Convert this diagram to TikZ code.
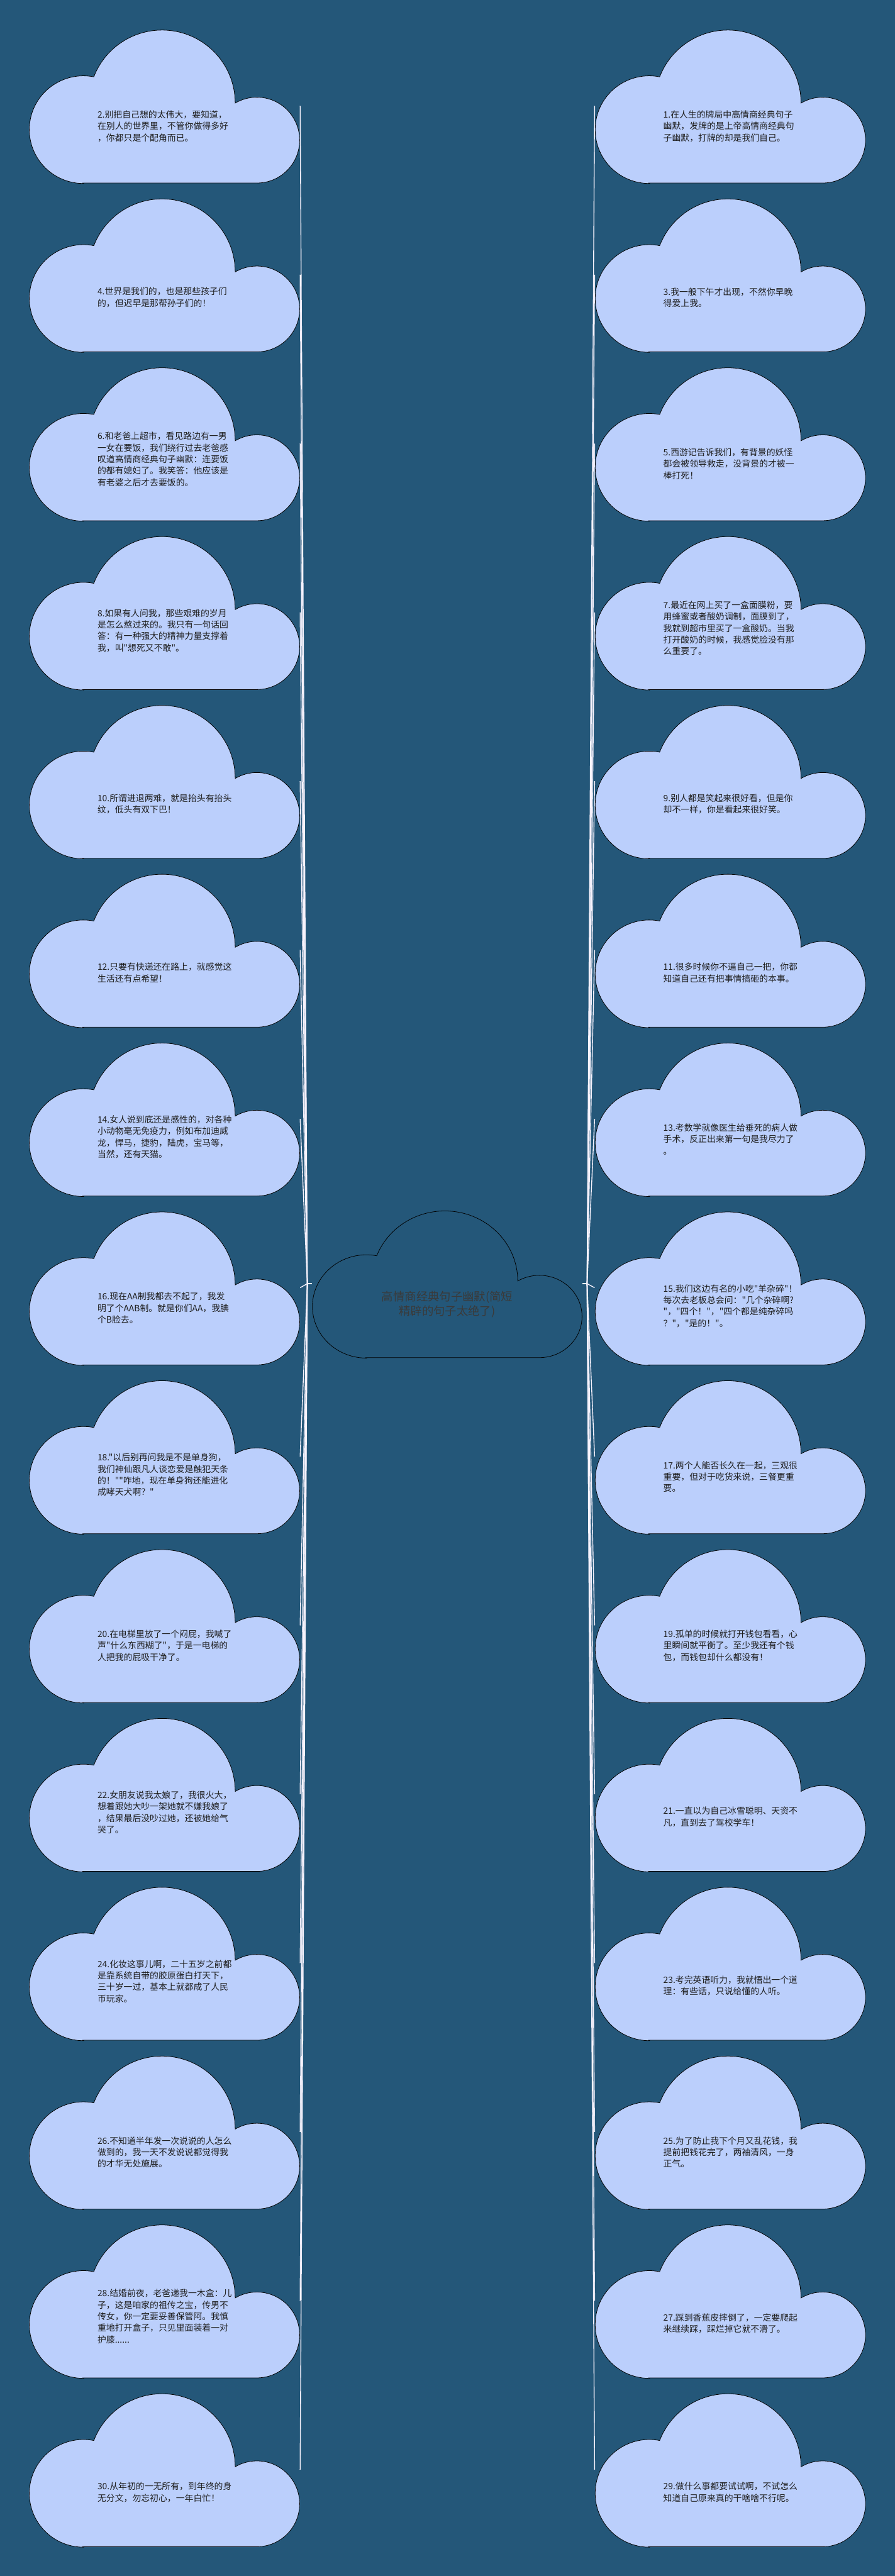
\documentclass[tikz,border=0pt]{standalone}
\usepackage{fontspec}
\usepackage{xcolor}
\usepackage{tikz}
\usetikzlibrary{positioning,calc}
\newfontfamily\cjk{Noto Sans CJK SC}
\definecolor{bgblue}{HTML}{245779}
\definecolor{cloudblue}{HTML}{BBCFFC}
\definecolor{linkwhite}{HTML}{F6F2FC}
\definecolor{quoteink}{HTML}{1E1E1E}
\definecolor{titleink}{HTML}{3A3A3A}

\begin{document}
\begin{tikzpicture}[cloud/.pic={\filldraw[draw=black, line width=0.4pt] (0.2,0) -- (0.842,0) arc[start angle=-90, end angle=120.4, x radius=0.158, y radius=0.279] arc[start angle=0, end angle=158.9, x radius=0.27, y radius=0.475] arc[start angle=79, end angle=270, x radius=0.2, y radius=0.35] -- cycle;},
 side/.style={rectangle, inner sep=0pt, minimum width=7.75cm, minimum height=4.4cm},
 rootcloud/.style={rectangle, inner sep=0pt, minimum width=7.73cm, minimum height=4.22cm},
 sideshape/.style={x=7.75cm, y=4.4cm, fill=cloudblue},
 rootshape/.style={x=7.73cm, y=4.22cm, fill=bgblue},
 quote/.style={anchor=west, inner sep=0pt, align=left, text=quoteink, font=\cjk\fontsize{7.1pt}{9.4pt}\selectfont},
 title/.style={inner sep=0pt, align=center, text=titleink, font=\cjk\fontsize{9.4pt}{11.7pt}\selectfont},
 every edge/.append style={linkwhite, line width=0.7pt}]

\fill[bgblue] (0,0) rectangle (25.6,-73.71);

% left column
\node[side] (n2) at (4.705,-3.03) {};
\node[side] (n4) at (4.705,-7.861) {};
\node[side] (n6) at (4.705,-12.692) {};
\node[side] (n8) at (4.705,-17.523) {};
\node[side] (n10) at (4.705,-22.354) {};
\node[side] (n12) at (4.705,-27.185) {};
\node[side] (n14) at (4.705,-32.016) {};
\node[side] (n16) at (4.705,-36.847) {};
\node[side] (n18) at (4.705,-41.678) {};
\node[side] (n20) at (4.705,-46.509) {};
\node[side] (n22) at (4.705,-51.34) {};
\node[side] (n24) at (4.705,-56.171) {};
\node[side] (n26) at (4.705,-61.002) {};
\node[side] (n28) at (4.705,-65.833) {};
\node[side] (n30) at (4.705,-70.664) {};

% right column
\node[side] (n1) at (20.895,-3.03) {};
\node[side] (n3) at (20.895,-7.861) {};
\node[side] (n5) at (20.895,-12.692) {};
\node[side] (n7) at (20.895,-17.523) {};
\node[side] (n9) at (20.895,-22.354) {};
\node[side] (n11) at (20.895,-27.185) {};
\node[side] (n13) at (20.895,-32.016) {};
\node[side] (n15) at (20.895,-36.847) {};
\node[side] (n17) at (20.895,-41.678) {};
\node[side] (n19) at (20.895,-46.509) {};
\node[side] (n21) at (20.895,-51.34) {};
\node[side] (n23) at (20.895,-56.171) {};
\node[side] (n25) at (20.895,-61.002) {};
\node[side] (n27) at (20.895,-65.833) {};
\node[side] (n29) at (20.895,-70.664) {};

\node[rootcloud] (root) at (12.795,-36.73) {};

% cloud outlines
\pic[sideshape] at (n2.south west) {cloud};
\pic[sideshape] at (n4.south west) {cloud};
\pic[sideshape] at (n6.south west) {cloud};
\pic[sideshape] at (n8.south west) {cloud};
\pic[sideshape] at (n10.south west) {cloud};
\pic[sideshape] at (n12.south west) {cloud};
\pic[sideshape] at (n14.south west) {cloud};
\pic[sideshape] at (n16.south west) {cloud};
\pic[sideshape] at (n18.south west) {cloud};
\pic[sideshape] at (n20.south west) {cloud};
\pic[sideshape] at (n22.south west) {cloud};
\pic[sideshape] at (n24.south west) {cloud};
\pic[sideshape] at (n26.south west) {cloud};
\pic[sideshape] at (n28.south west) {cloud};
\pic[sideshape] at (n30.south west) {cloud};
\pic[sideshape] at (n1.south west) {cloud};
\pic[sideshape] at (n3.south west) {cloud};
\pic[sideshape] at (n5.south west) {cloud};
\pic[sideshape] at (n7.south west) {cloud};
\pic[sideshape] at (n9.south west) {cloud};
\pic[sideshape] at (n11.south west) {cloud};
\pic[sideshape] at (n13.south west) {cloud};
\pic[sideshape] at (n15.south west) {cloud};
\pic[sideshape] at (n17.south west) {cloud};
\pic[sideshape] at (n19.south west) {cloud};
\pic[sideshape] at (n21.south west) {cloud};
\pic[sideshape] at (n23.south west) {cloud};
\pic[sideshape] at (n25.south west) {cloud};
\pic[sideshape] at (n27.south west) {cloud};
\pic[sideshape] at (n29.south west) {cloud};
\pic[rootshape] at (root.south west) {cloud};

\node[title] (head) at ([yshift=-0.59cm]root.center) {高情商经典句子幽默(简短\\精辟的句子太绝了)};

\node[quote] (t2) at ([xshift=1.96cm,yshift=-0.58cm]n2.west) {2.别把自己想的太伟大，要知道，\\在别人的世界里，不管你做得多好\\，你都只是个配角而已。};
\node[quote] (t4) at ([xshift=1.96cm,yshift=-0.65cm]n4.west) {4.世界是我们的，也是那些孩子们\\的，但迟早是那帮孙子们的！};
\node[quote] (t6) at ([xshift=1.96cm,yshift=-0.45cm]n6.west) {6.和老爸上超市，看见路边有一男\\一女在要饭，我们绕行过去老爸感\\叹道高情商经典句子幽默：连要饭\\的都有媳妇了。我笑答：他应该是\\有老婆之后才去要饭的。};
\node[quote] (t8) at ([xshift=1.96cm,yshift=-0.52cm]n8.west) {8.如果有人问我，那些艰难的岁月\\是怎么熬过来的。我只有一句话回\\答：有一种强大的精神力量支撑着\\我，叫"想死又不敢"。};
\node[quote] (t10) at ([xshift=1.96cm,yshift=-0.65cm]n10.west) {10.所谓进退两难，就是抬头有抬头\\纹，低头有双下巴！};
\node[quote] (t12) at ([xshift=1.96cm,yshift=-0.65cm]n12.west) {12.只要有快递还在路上，就感觉这\\生活还有点希望！};
\node[quote] (t14) at ([xshift=1.96cm,yshift=-0.52cm]n14.west) {14.女人说到底还是感性的，对各种\\小动物毫无免疫力，例如布加迪威\\龙，悍马，捷豹，陆虎，宝马等，\\当然，还有天猫。};
\node[quote] (t16) at ([xshift=1.96cm,yshift=-0.58cm]n16.west) {16.现在AA制我都去不起了，我发\\明了个AAB制。就是你们AA，我腆\\个B脸去。};
\node[quote] (t18) at ([xshift=1.96cm,yshift=-0.52cm]n18.west) {18."以后别再问我是不是单身狗，\\我们神仙跟凡人谈恋爱是触犯天条\\的！""咋地，现在单身狗还能进化\\成哮天犬啊？"};
\node[quote] (t20) at ([xshift=1.96cm,yshift=-0.58cm]n20.west) {20.在电梯里放了一个闷屁，我喊了\\声"什么东西糊了"，于是一电梯的\\人把我的屁吸干净了。};
\node[quote] (t22) at ([xshift=1.96cm,yshift=-0.52cm]n22.west) {22.女朋友说我太娘了，我很火大，\\想着跟她大吵一架她就不嫌我娘了\\，结果最后没吵过她，还被她给气\\哭了。};
\node[quote] (t24) at ([xshift=1.96cm,yshift=-0.52cm]n24.west) {24.化妆这事儿啊，二十五岁之前都\\是靠系统自带的胶原蛋白打天下，\\三十岁一过，基本上就都成了人民\\币玩家。};
\node[quote] (t26) at ([xshift=1.96cm,yshift=-0.58cm]n26.west) {26.不知道半年发一次说说的人怎么\\做到的，我一天不发说说都觉得我\\的才华无处施展。};
\node[quote] (t28) at ([xshift=1.96cm,yshift=-0.45cm]n28.west) {28.结婚前夜，老爸递我一木盒：儿\\子，这是咱家的祖传之宝，传男不\\传女，你一定要妥善保管阿。我慎\\重地打开盒子，只见里面装着一对\\护膝......};
\node[quote] (t30) at ([xshift=1.96cm,yshift=-0.65cm]n30.west) {30.从年初的一无所有，到年终的身\\无分文，勿忘初心，一年白忙！};

\node[quote] (t1) at ([xshift=1.96cm,yshift=-0.58cm]n1.west) {1.在人生的牌局中高情商经典句子\\幽默，发牌的是上帝高情商经典句\\子幽默，打牌的却是我们自己。};
\node[quote] (t3) at ([xshift=1.96cm,yshift=-0.65cm]n3.west) {3.我一般下午才出现，不然你早晚\\得爱上我。};
\node[quote] (t5) at ([xshift=1.96cm,yshift=-0.58cm]n5.west) {5.西游记告诉我们，有背景的妖怪\\都会被领导救走，没背景的才被一\\棒打死！};
\node[quote] (t7) at ([xshift=1.96cm,yshift=-0.45cm]n7.west) {7.最近在网上买了一盒面膜粉，要\\用蜂蜜或者酸奶调制，面膜到了，\\我就到超市里买了一盒酸奶。当我\\打开酸奶的时候，我感觉脸没有那\\么重要了。};
\node[quote] (t9) at ([xshift=1.96cm,yshift=-0.65cm]n9.west) {9.别人都是笑起来很好看，但是你\\却不一样，你是看起来很好笑。};
\node[quote] (t11) at ([xshift=1.96cm,yshift=-0.65cm]n11.west) {11.很多时候你不逼自己一把，你都\\知道自己还有把事情搞砸的本事。};
\node[quote] (t13) at ([xshift=1.96cm,yshift=-0.58cm]n13.west) {13.考数学就像医生给垂死的病人做\\手术，反正出来第一句是我尽力了\\。};
\node[quote] (t15) at ([xshift=1.96cm,yshift=-0.52cm]n15.west) {15.我们这边有名的小吃"羊杂碎"！\\每次去老板总会问："几个杂碎啊?\\"，"四个！"，"四个都是纯杂碎吗\\？"，"是的！"。};
\node[quote] (t17) at ([xshift=1.96cm,yshift=-0.58cm]n17.west) {17.两个人能否长久在一起，三观很\\重要，但对于吃货来说，三餐更重\\要。};
\node[quote] (t19) at ([xshift=1.96cm,yshift=-0.58cm]n19.west) {19.孤单的时候就打开钱包看看，心\\里瞬间就平衡了。至少我还有个钱\\包，而钱包却什么都没有！};
\node[quote] (t21) at ([xshift=1.96cm,yshift=-0.65cm]n21.west) {21.一直以为自己冰雪聪明、天资不\\凡，直到去了驾校学车！};
\node[quote] (t23) at ([xshift=1.96cm,yshift=-0.65cm]n23.west) {23.考完英语听力，我就悟出一个道\\理：有些话，只说给懂的人听。};
\node[quote] (t25) at ([xshift=1.96cm,yshift=-0.58cm]n25.west) {25.为了防止我下个月又乱花钱，我\\提前把钱花完了，两袖清风，一身\\正气。};
\node[quote] (t27) at ([xshift=1.96cm,yshift=-0.65cm]n27.west) {27.踩到香蕉皮摔倒了，一定要爬起\\来继续踩，踩烂掉它就不滑了。};
\node[quote] (t29) at ([xshift=1.96cm,yshift=-0.65cm]n29.west) {29.做什么事都要试试啊，不试怎么\\知道自己原来真的干啥啥不行呢。};

\coordinate[left=0.13cm of root.west] (lhub);
\coordinate[right=0.13cm of root.east] (rhub);

\path
 (root.west) edge (lhub)
 (root.east) edge (rhub);
\path (lhub) edge (n2.east) edge (n4.east) edge (n6.east) edge (n8.east) edge (n10.east)
 edge (n12.east) edge (n14.east) edge (n16.east) edge (n18.east) edge (n20.east)
 edge (n22.east) edge (n24.east) edge (n26.east) edge (n28.east) edge (n30.east);
\path (rhub) edge (n1.west) edge (n3.west) edge (n5.west) edge (n7.west) edge (n9.west)
 edge (n11.west) edge (n13.west) edge (n15.west) edge (n17.west) edge (n19.west)
 edge (n21.west) edge (n23.west) edge (n25.west) edge (n27.west) edge (n29.west);
\end{tikzpicture}
\end{document}
